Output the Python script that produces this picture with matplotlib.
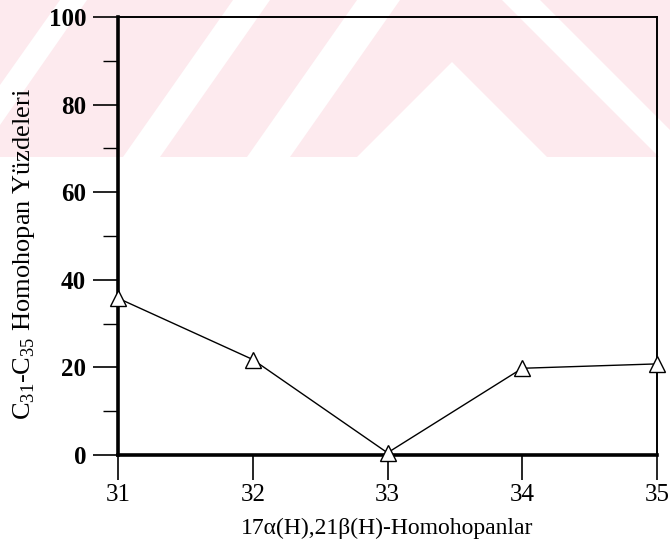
import matplotlib.pyplot as plt
from matplotlib.patches import Polygon, Rectangle
from matplotlib.ticker import MultipleLocator

# homohopane carbon numbers and their percentages
carbon_no = [31, 32, 33, 34, 35]
percent = [35.8, 21.8, 0.5, 19.8, 20.8]

plt.rcParams['font.family'] = ['Liberation Serif', 'DejaVu Serif']
plt.rcParams['mathtext.fontset'] = 'custom'
plt.rcParams['mathtext.rm'] = 'Liberation Serif'

W, H = 670, 553
fig = plt.figure(figsize=(W / 100.0, H / 100.0), dpi=100)

# pale watermark band behind the chart (pixel coords)
bg = fig.add_axes([0, 0, 1, 1], zorder=-1)
bg.set_xlim(0, W)
bg.set_ylim(H, 0)
bg.axis('off')
bg.add_patch(Rectangle((0, 0), W, 157, color='#fdeaee', lw=0))
stripes = [
    [(0, 85), (0, 125), (87, 0), (60, 0)],
    [(123, 157), (160, 157), (270, 0), (233, 0)],
    [(247, 157), (290, 157), (400, 0), (357, 0)],
    [(357, 157), (452, 62), (547, 157)],
    [(502, 0), (540, 0), (697, 157), (659, 157)],
]
for pts in stripes:
    bg.add_patch(Polygon(pts, closed=True, color='white', lw=0))

ax = fig.add_axes([118.0 / W, 1 - 455.0 / H, 539.0 / W, 438.0 / H])
ax.patch.set_alpha(0)

ax.plot(carbon_no, percent, color='black', lw=1.0, marker='^', ms=11,
        mfc='white', mec='black', mew=1.0, clip_on=False, zorder=3)

ax.set_xlim(31, 35)
ax.set_ylim(0, 100)
ax.xaxis.set_major_locator(MultipleLocator(1))
ax.yaxis.set_major_locator(MultipleLocator(20))
ax.yaxis.set_minor_locator(MultipleLocator(10))

ax.tick_params(axis='x', which='major', direction='out', length=18,
               width=1.2, labelsize=18, pad=3)
ax.tick_params(axis='y', which='major', direction='out', length=18,
               width=1.2, labelsize=18, pad=5)
ax.tick_params(axis='y', which='minor', direction='out', length=11, width=1.0)
for lab in ax.get_yticklabels():
    lab.set_fontweight('bold')

ax.spines['left'].set_linewidth(2.6)
ax.spines['bottom'].set_linewidth(2.6)
ax.spines['top'].set_linewidth(1.4)
ax.spines['right'].set_linewidth(1.4)

ax.set_xlabel('17α(H),21β(H)-Homohopanlar', fontsize=17)
ax.xaxis.set_label_coords(0.5, -0.143)
ax.set_ylabel(r'C$_{31}$-C$_{35}$ Homohopan Yüzdeleri', fontsize=19)
ax.yaxis.set_label_coords(-0.15, 0.46)

fig.savefig('out.png', dpi=100)
